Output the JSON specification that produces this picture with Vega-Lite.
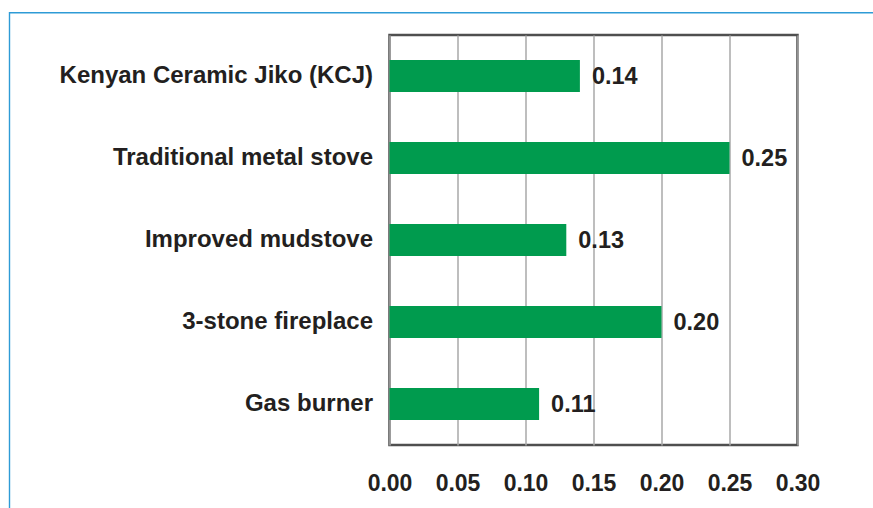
{
  "$schema": "https://vega.github.io/schema/vega-lite/v6.json",
  "width": 408,
  "height": 410,
  "autosize": {"type": "none"},
  "padding": {"left": 389.5, "top": 35, "right": 75.5, "bottom": 63},
  "background": "white",
  "config": {
    "font": "Liberation Sans",
    "view": {"stroke": "#4f4f4f", "strokeWidth": 2.5},
    "axis": {
      "labelFont": "Liberation Sans",
      "labelFontWeight": "bold",
      "labelColor": "#231f20",
      "ticks": false,
      "domain": false,
      "title": null
    }
  },
  "data": {
    "values": [
      {"stove": "Kenyan Ceramic Jiko (KCJ)", "value": 0.14},
      {"stove": "Traditional metal stove", "value": 0.25},
      {"stove": "Improved mudstove", "value": 0.13},
      {"stove": "3-stone fireplace", "value": 0.20},
      {"stove": "Gas burner", "value": 0.11}
    ]
  },
  "encoding": {
    "y": {
      "field": "stove",
      "type": "nominal",
      "sort": null,
      "scale": {"paddingInner": 0.61, "paddingOuter": 0.305},
      "axis": {
        "labelFontSize": 24,
        "labelPadding": 17,
        "labelLimit": 400,
        "grid": false
      }
    },
    "x": {
      "field": "value",
      "type": "quantitative",
      "scale": {"domain": [0, 0.3], "nice": false},
      "axis": {
        "values": [0, 0.05, 0.1, 0.15, 0.2, 0.25, 0.3],
        "format": ".2f",
        "labelFontSize": 23,
        "labelPadding": 27,
        "grid": true,
        "gridColor": "#a9a9a9",
        "gridWidth": 1.5,
        "labelFlush": false
      }
    }
  },
  "layer": [
    {
      "mark": {"type": "bar", "color": "#009b4e"}
    },
    {
      "mark": {
        "type": "text",
        "align": "left",
        "baseline": "middle",
        "dx": 12,
        "dy": 1,
        "fontSize": 23.5,
        "fontWeight": "bold",
        "color": "#231f20"
      },
      "encoding": {
        "text": {"field": "value", "type": "quantitative", "format": ".2f"}
      }
    },
    {
      "data": {"values": [{}]},
      "mark": {
        "type": "rect",
        "fill": null,
        "stroke": "#2e9bd6",
        "strokeWidth": 1.4,
        "clip": false
      },
      "encoding": {
        "x": {"value": -380},
        "x2": {"value": 500},
        "y": {"value": -22.3},
        "y2": {"value": 490}
      }
    }
  ]
}
